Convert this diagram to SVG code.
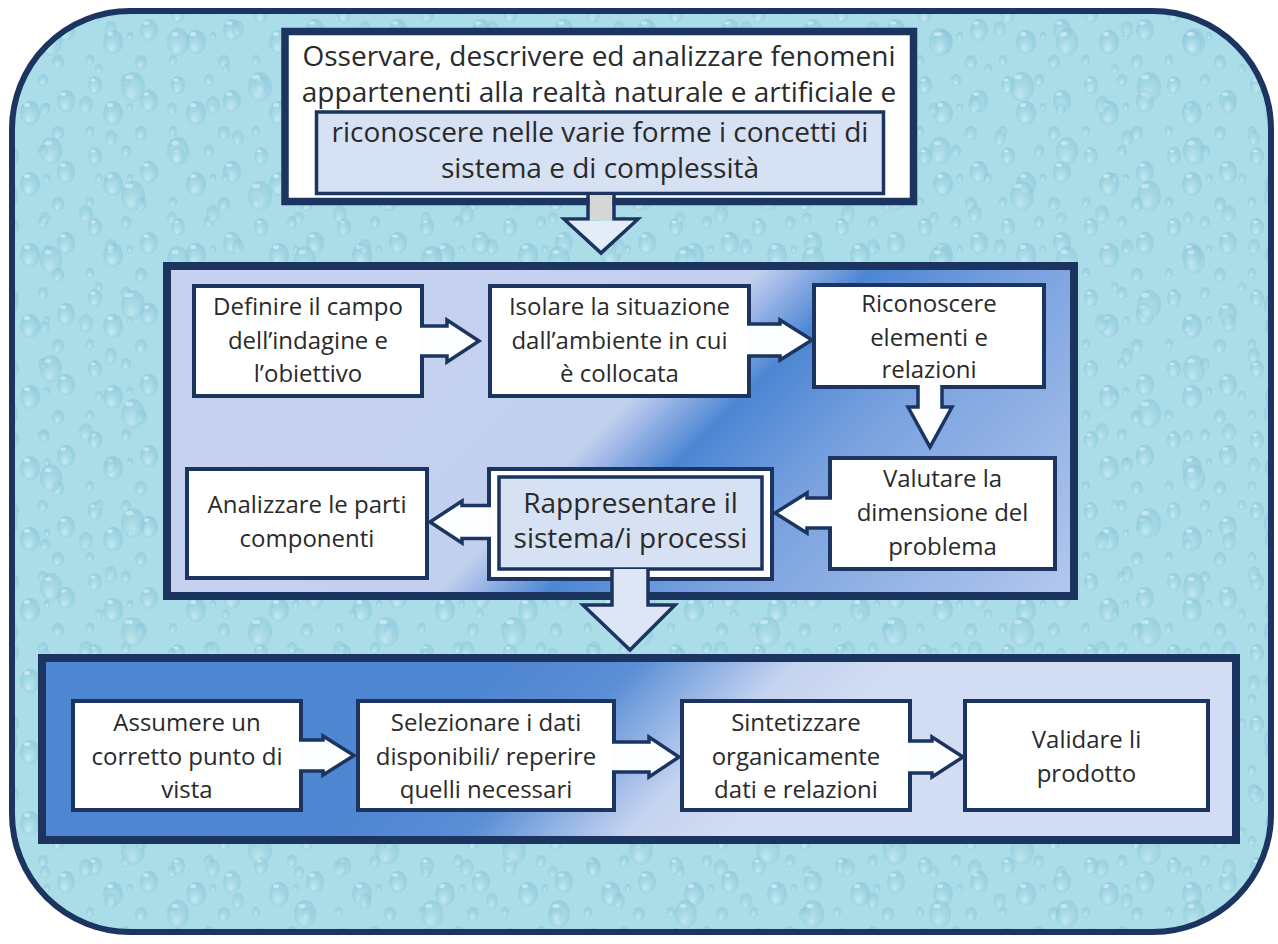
<svg xmlns="http://www.w3.org/2000/svg" width="1278" height="944" viewBox="0 0 1278 944">
  <defs>
    <style>
      .lbl{font-family:'Open Sans','Liberation Sans',sans-serif;fill:#2a2a2a;text-anchor:middle;font-size:24px}
      .big{font-size:28px}
      .top{font-size:28px}
      .box{fill:#ffffff;stroke:#1b3560;stroke-width:4}
      .inner{fill:#d6e1f3;stroke:#1b3560;stroke-width:3.5}
      .panel{stroke:#1b3560;stroke-width:8}
      .arr{fill:#fbfdff;stroke:#1b3560;stroke-width:3.5;stroke-linejoin:miter}
    </style>
    <!-- water-drop texture for the background: two tiles of different size layered -->
    <radialGradient id="drop" cx="0.5" cy="0.55" r="0.55" fx="0.4" fy="0.8">
      <stop offset="0" stop-color="#d9f2f8"/>
      <stop offset="0.5" stop-color="#a0d5e3"/>
      <stop offset="1" stop-color="#7fbfd4"/>
    </radialGradient>
    <pattern id="dropsA" width="83" height="71" patternUnits="userSpaceOnUse">
      <rect width="83" height="71" fill="#abdde8"/>
      <g fill="url(#drop)" opacity="0.55">
        <ellipse cx="12" cy="14" rx="7" ry="9"/>
        <ellipse cx="43" cy="9" rx="5" ry="6"/>
        <ellipse cx="66" cy="30" rx="9" ry="11"/>
        <ellipse cx="30" cy="42" rx="10" ry="12"/>
        <ellipse cx="7" cy="60" rx="4" ry="5"/>
        <ellipse cx="58" cy="62" rx="6" ry="7"/>
        <ellipse cx="47" cy="36" rx="3" ry="4"/>
      </g>
      <g fill="#ffffff" opacity="0.45">
        <ellipse cx="10" cy="9" rx="2.5" ry="1.6"/>
        <ellipse cx="63" cy="23" rx="3" ry="1.8"/>
        <ellipse cx="27" cy="34" rx="3" ry="2"/>
      </g>
    </pattern>
    <pattern id="dropsB" width="127" height="109" patternUnits="userSpaceOnUse" x="31" y="17">
      <g fill="url(#drop)" opacity="0.45">
        <ellipse cx="20" cy="25" rx="11" ry="14"/>
        <ellipse cx="80" cy="12" rx="6" ry="8"/>
        <ellipse cx="102" cy="70" rx="12" ry="15"/>
        <ellipse cx="55" cy="88" rx="7" ry="9"/>
        <ellipse cx="14" cy="92" rx="5" ry="6"/>
        <ellipse cx="68" cy="52" rx="4" ry="5"/>
      </g>
      <g fill="#ffffff" opacity="0.4">
        <ellipse cx="17" cy="17" rx="3.5" ry="2"/>
        <ellipse cx="98" cy="60" rx="4" ry="2.2"/>
      </g>
    </pattern>
    <linearGradient id="midFill" gradientUnits="userSpaceOnUse" x1="500" y1="200" x2="1000" y2="700">
      <stop offset="0" stop-color="#c5d1ee"/>
      <stop offset="0.33" stop-color="#c2cfef"/>
      <stop offset="0.44" stop-color="#4d86d3"/>
      <stop offset="0.6" stop-color="#7aa2df"/>
      <stop offset="1" stop-color="#b8cbef"/>
    </linearGradient>
    <linearGradient id="lowFill" gradientUnits="userSpaceOnUse" x1="580" y1="580" x2="780" y2="780">
      <stop offset="0" stop-color="#4f86d1"/>
      <stop offset="0.35" stop-color="#5a8ed5"/>
      <stop offset="0.75" stop-color="#c5d3f0"/>
      <stop offset="1" stop-color="#d2dcf3"/>
    </linearGradient>
  </defs>

  <!-- background frame -->
  <rect x="12" y="11" width="1259" height="921" rx="118" ry="118" fill="url(#dropsA)"/>
  <rect x="12" y="11" width="1259" height="921" rx="118" ry="118" fill="url(#dropsB)" stroke="#1b3560" stroke-width="6"/>

  <!-- panels -->
  <rect id="panel-analysis" class="panel" x="167" y="266" width="907" height="330" fill="url(#midFill)"/>
  <rect id="panel-synthesis" class="panel" x="42" y="658" width="1194" height="182" fill="url(#lowFill)"/>

  <g id="node-goal">
    <rect x="285" y="31.5" width="628.5" height="170" fill="#ffffff" stroke="#1b3560" stroke-width="7.5"/>
    <rect class="inner" x="316.5" y="112" width="567" height="81.5"/>
    <text class="lbl top" x="599" y="66">Osservare, descrivere ed analizzare fenomeni</text>
    <text class="lbl top" x="599" y="102">appartenenti alla realtà naturale e artificiale e</text>
    <text class="lbl top" x="600" y="142">riconoscere nelle varie forme i concetti di</text>
    <text class="lbl top" x="600" y="178">sistema e di complessità</text>
  </g>

  <g id="node-define">
    <rect class="box" x="194" y="286" width="228" height="110"/>
    <text class="lbl"><tspan x="308" y="315">Definire il campo</tspan><tspan x="308" y="349">dell’indagine e</tspan><tspan x="308" y="382">l’obiettivo</tspan></text>
  </g>
  <g id="node-isolate">
    <rect class="box" x="490" y="286" width="259" height="110"/>
    <text class="lbl"><tspan x="619.5" y="315">Isolare la situazione</tspan><tspan x="619.5" y="349">dall’ambiente in cui</tspan><tspan x="619.5" y="382">è collocata</tspan></text>
  </g>
  <g id="node-recognize">
    <rect class="box" x="814" y="285" width="230" height="102"/>
    <text class="lbl"><tspan x="929" y="312">Riconoscere</tspan><tspan x="929" y="346">elementi e</tspan><tspan x="929" y="378">relazioni</tspan></text>
  </g>
  <g id="node-evaluate">
    <rect class="box" x="830" y="458" width="225" height="111"/>
    <text class="lbl"><tspan x="942.5" y="487">Valutare la</tspan><tspan x="942.5" y="521">dimensione del</tspan><tspan x="942.5" y="555">problema</tspan></text>
  </g>
  <g id="node-represent">
    <rect class="box" x="489" y="469" width="283" height="110"/>
    <rect class="inner" x="499" y="477" width="263" height="92" fill="#d9e3f3" stroke-width="4"/>
    <text class="lbl big"><tspan x="630.5" y="513">Rappresentare il</tspan><tspan x="630.5" y="548">sistema/i processi</tspan></text>
  </g>
  <g id="node-analyze">
    <rect class="box" x="187" y="469" width="240" height="109"/>
    <text class="lbl"><tspan x="307" y="513">Analizzare le parti</tspan><tspan x="307" y="547">componenti</tspan></text>
  </g>

  <g id="node-viewpoint">
    <rect class="box" x="73" y="701" width="228" height="109"/>
    <text class="lbl"><tspan x="187" y="731">Assumere un</tspan><tspan x="187" y="765">corretto punto di</tspan><tspan x="187" y="798">vista</tspan></text>
  </g>
  <g id="node-select">
    <rect class="box" x="358" y="701" width="256" height="109"/>
    <text class="lbl"><tspan x="486" y="731">Selezionare i dati</tspan><tspan x="486" y="765">disponibili/ reperire</tspan><tspan x="486" y="798">quelli necessari</tspan></text>
  </g>
  <g id="node-synthesize">
    <rect class="box" x="682" y="701" width="228" height="109"/>
    <text class="lbl"><tspan x="796" y="731">Sintetizzare</tspan><tspan x="796" y="765">organicamente</tspan><tspan x="796" y="798">dati e relazioni</tspan></text>
  </g>
  <g id="node-validate">
    <rect class="box" x="965" y="701" width="243" height="109"/>
    <text class="lbl"><tspan x="1086.5" y="748">Validare li</tspan><tspan x="1086.5" y="782">prodotto</tspan></text>
  </g>

  <g id="connectors">
    <!-- goal -> analysis panel -->
    <rect x="589.5" y="195" width="23" height="25" fill="#d6d6d6"/>
    <path d="M588,195 V219 H564 L601,253 L638,219 H614 V195" fill="none" stroke="#1b3560" stroke-width="3.5"/>
    <path d="M589.8,220.8 H568.5 L601,250 L633.5,220.8 Z" fill="#e4ecf7"/>
    <!-- horizontal steps, analysis panel -->
    <path class="arr" d="M420,326 H447 V320 L479,341 L447,362 V356 H420"/>
    <path class="arr" d="M747,324 H780 V320 L812,340 L780,360 V356 H747"/>
    <path class="arr" d="M918,385 V407 H908 L930,447 L952,407 H942 V385"/>
    <path class="arr" d="M832,498 H807 V493 L775,513 L807,533 V528 H832"/>
    <path class="arr" d="M491,505.5 H462 V501 L430,522 L462,543 V538.5 H491"/>
    <!-- analysis panel -> synthesis panel -->
    <path d="M612,569 V605 H583 L630,650 L675,605 H648 V569" fill="#dce6f4" stroke="#1b3560" stroke-width="3.5"/>
    <!-- horizontal steps, synthesis panel -->
    <path class="arr" d="M299,740 H323 V736 L354,755.5 L323,775 V771 H299"/>
    <path class="arr" d="M612,742 H649 V737 L679,757 L649,777 V772 H612"/>
    <path class="arr" d="M908,741 H932 V737 L963,757 L932,777 V773 H908"/>
  </g>
</svg>
